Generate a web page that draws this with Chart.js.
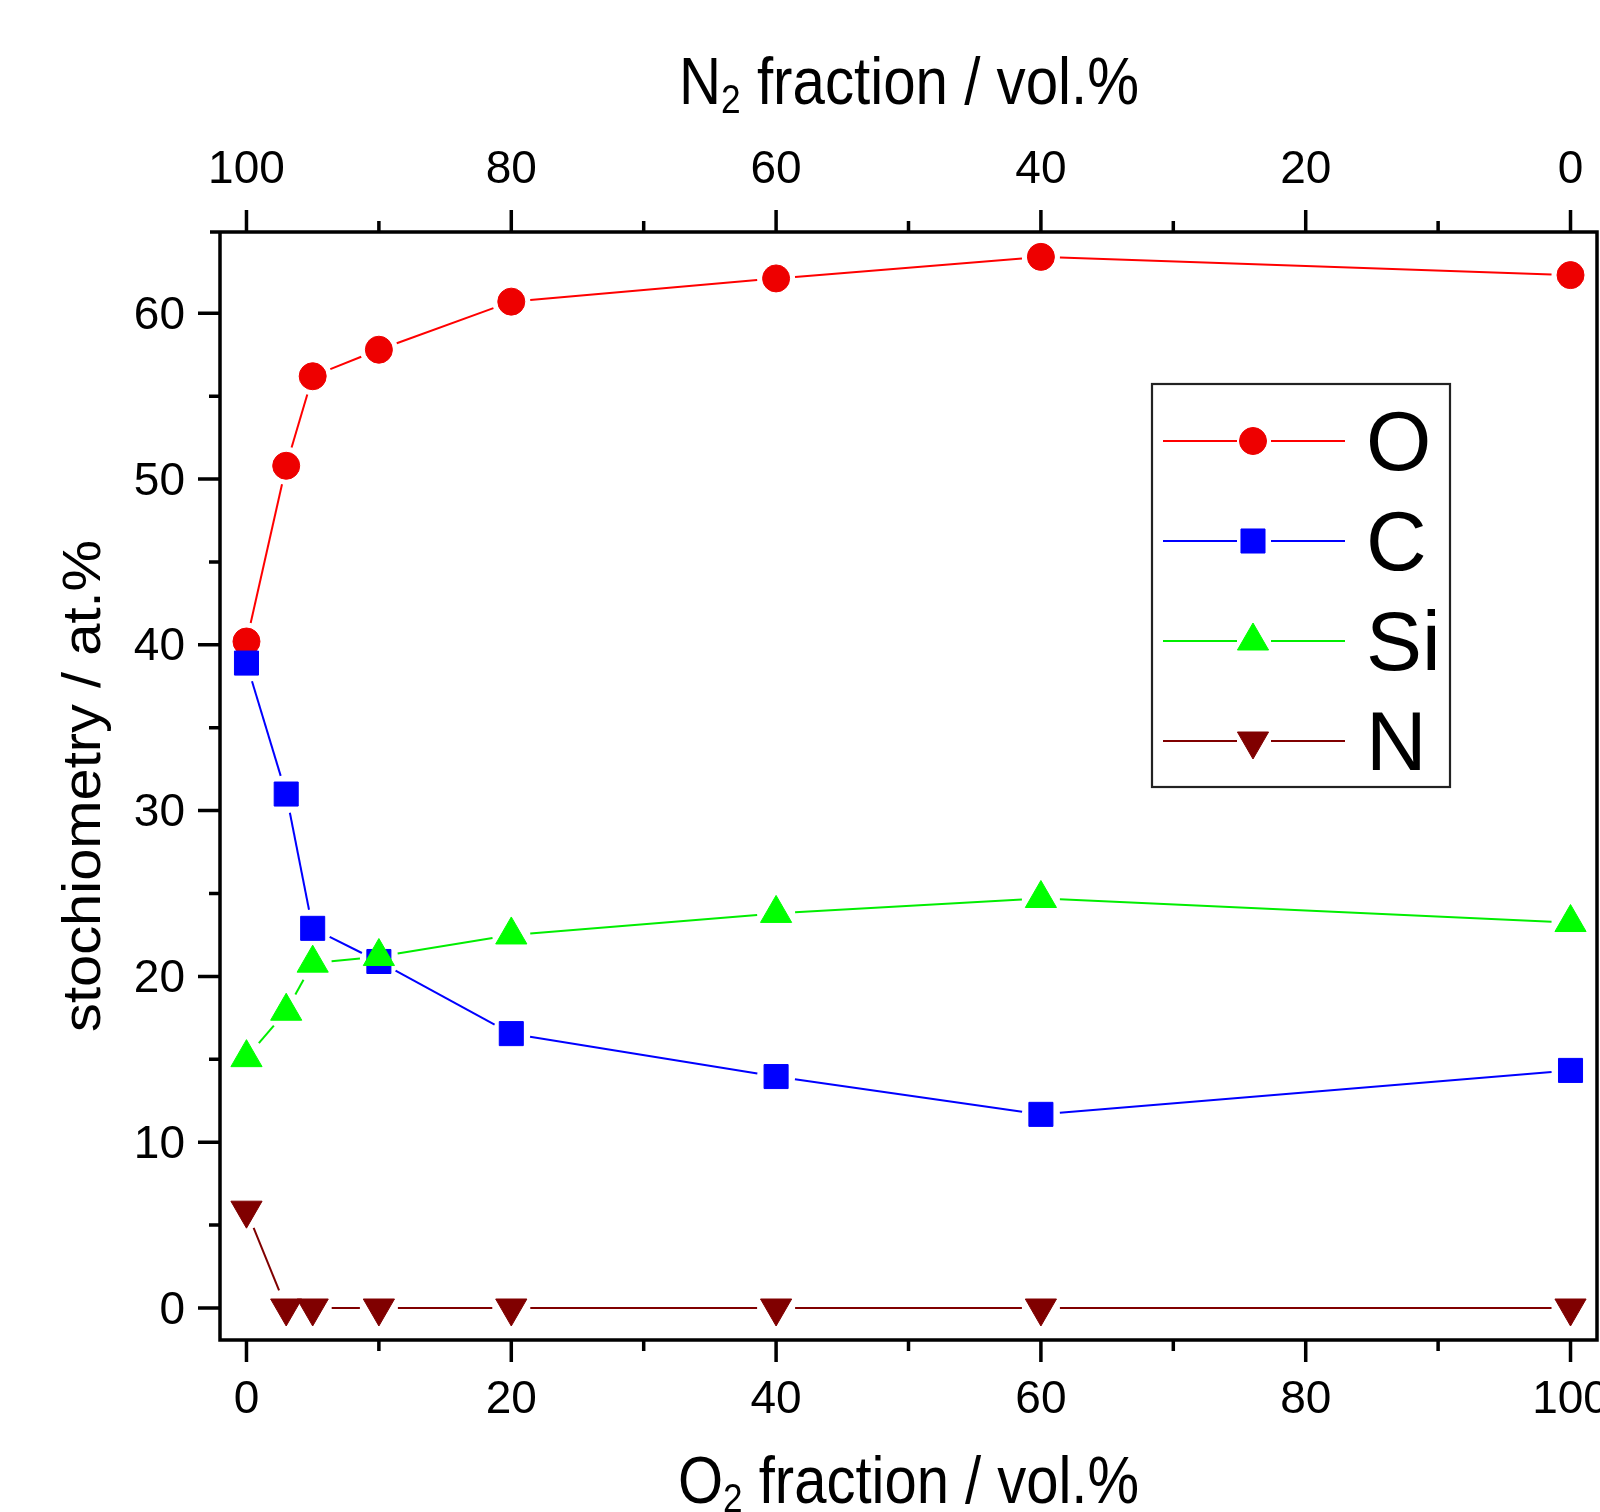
<!DOCTYPE html>
<html>
<head>
<meta charset="utf-8">
<script src="https://cdn.jsdelivr.net/npm/chart.js@4.4.1/dist/chart.umd.min.js"></script>
<style>
  html, body { margin: 0; padding: 0; background: #fff; }
  canvas { display: block; }
</style>
</head>
<body>
<canvas id="chart" width="1600" height="1512"></canvas>
<script>
// ============================================================
// DATA
// ============================================================
const o2Fraction = [0, 3, 5, 10, 20, 40, 60, 100];
const oxygen     = [40.2, 50.8, 56.2, 57.8, 60.7, 62.1, 63.4, 62.3];
const carbon     = [38.9, 31.0, 22.9, 20.9, 16.55, 13.96, 11.68, 14.33];
const silicon    = [15.1, 17.9, 20.8, 21.2, 22.5, 23.8, 24.7, 23.25];
const nitrogen   = [5.9, 0, 0, 0, 0, 0, 0, 0];

const seriesNames = ['O', 'C', 'Si', 'N'];

const bottomTicks = [0, 20, 40, 60, 80, 100];
const bottomMinor = [10, 30, 50, 70, 90];
const topTicks    = [100, 80, 60, 40, 20, 0];
const topMinor    = [90, 70, 50, 30, 10];
const yTicks      = [0, 10, 20, 30, 40, 50, 60];
const yMinor      = [5, 15, 25, 35, 45, 55];

const FONT = '"Liberation Sans", Arial, sans-serif';

function pts(values) {
  return o2Fraction.map((x, i) => ({ x, y: values[i] }));
}

// ============================================================
// DATASETS
// ============================================================
const datasets = [
  { label: seriesNames[0], data: pts(oxygen),   line: '#ff0000', backgroundColor: '#ee0000', borderColor: '#ee0000',
    pointStyle: 'circle',   pointRadius: 13.5, rotation: 0,   order: 3 },
  { label: seriesNames[1], data: pts(carbon),   line: '#0000ff', backgroundColor: '#0000ff', borderColor: '#0000ff',
    pointStyle: 'rect',     pointRadius: 17,   rotation: 0,   order: 2 },
  { label: seriesNames[2], data: pts(silicon),  line: '#00ee00', backgroundColor: '#00ff00', borderColor: '#00ff00',
    pointStyle: 'triangle', pointRadius: 18,   rotation: 0,   order: 1 },
  { label: seriesNames[3], data: pts(nitrogen), line: '#800000', backgroundColor: '#800000', borderColor: '#800000',
    pointStyle: 'triangle', pointRadius: 18,   rotation: 180, order: 0 }
].map(d => ({
  ...d,
  showLine: false,
  pointBorderWidth: 1,
  pointHoverRadius: d.pointRadius,
  pointRotation: d.rotation,
  gap: 19,
  clip: false
}));

// ============================================================
// DRAW HELPERS
// ============================================================
function fitText(ctx, parts, left, baseline, width) {
  const widths = parts.map(p => { ctx.font = `${p.size}px ${FONT}`; return ctx.measureText(p.text).width; });
  const sx = width / widths.reduce((a, b) => a + b, 0);
  ctx.save();
  ctx.translate(left, baseline);
  ctx.scale(sx, 1);
  ctx.textAlign = 'left';
  ctx.textBaseline = 'alphabetic';
  let x = 0;
  parts.forEach((p, i) => {
    ctx.font = `${p.size}px ${FONT}`;
    ctx.fillText(p.text, x, p.dy || 0);
    x += widths[i];
  });
  ctx.restore();
}

function marker(ctx, ds, x, y) {
  ctx.save();
  ctx.fillStyle = ds.backgroundColor;
  ctx.strokeStyle = ds.borderColor;
  ctx.lineWidth = 1;
  Chart.helpers.drawPoint(ctx, {
    pointStyle: ds.pointStyle, rotation: ds.rotation, radius: ds.pointRadius, borderWidth: 1
  }, x, y);
  ctx.restore();
}

// lines stop short of every marker, like the original plot
const gappedLines = {
  id: 'gappedLines',
  beforeDatasetsDraw(chart) {
    const ctx = chart.ctx;
    chart.data.datasets.forEach((ds, di) => {
      const pts = chart.getDatasetMeta(di).data;
      ctx.save();
      ctx.strokeStyle = ds.line;
      ctx.lineWidth = 2;
      for (let i = 0; i < pts.length - 1; i++) {
        const p = pts[i], q = pts[i + 1];
        const dx = q.x - p.x, dy = q.y - p.y;
        const d = Math.hypot(dx, dy);
        if (d <= 2 * ds.gap) continue;
        const ux = dx / d, uy = dy / d;
        ctx.beginPath();
        ctx.moveTo(p.x + ux * ds.gap, p.y + uy * ds.gap);
        ctx.lineTo(q.x - ux * ds.gap, q.y - uy * ds.gap);
        ctx.stroke();
      }
      ctx.restore();
    });
  }
};

const frame = {
  id: 'frame',
  afterDatasetsDraw(chart) {
    const ctx = chart.ctx;
    const { left, right, top, bottom } = chart.chartArea;
    const x = chart.scales.x, x2 = chart.scales.x2, y = chart.scales.y;

    ctx.save();
    ctx.strokeStyle = '#000';
    ctx.lineWidth = 3.5;
    ctx.lineCap = 'butt';
    ctx.beginPath();
    ctx.moveTo(left - 10, top); ctx.lineTo(right, top);
    ctx.moveTo(right, top - 1.75); ctx.lineTo(right, bottom + 1.75);
    ctx.moveTo(left - 1.75, bottom); ctx.lineTo(right, bottom);
    ctx.moveTo(left, top); ctx.lineTo(left, bottom + 1.75);
    ctx.stroke();

    // ticks
    ctx.beginPath();
    bottomTicks.forEach(v => { const px = x.getPixelForValue(v); ctx.moveTo(px, bottom); ctx.lineTo(px, bottom + 22); });
    bottomMinor.forEach(v => { const px = x.getPixelForValue(v); ctx.moveTo(px, bottom); ctx.lineTo(px, bottom + 11); });
    topTicks.forEach(v => { const px = x2.getPixelForValue(v); ctx.moveTo(px, top); ctx.lineTo(px, top - 22); });
    topMinor.forEach(v => { const px = x2.getPixelForValue(v); ctx.moveTo(px, top); ctx.lineTo(px, top - 11); });
    yTicks.forEach(v => { const py = y.getPixelForValue(v); ctx.moveTo(left, py); ctx.lineTo(left - 22, py); });
    yMinor.forEach(v => { const py = y.getPixelForValue(v); ctx.moveTo(left, py); ctx.lineTo(left - 11, py); });
    ctx.stroke();

    // tick labels
    ctx.fillStyle = '#000';
    ctx.font = `46px ${FONT}`;
    ctx.textBaseline = 'alphabetic';
    ctx.textAlign = 'center';
    bottomTicks.forEach(v => ctx.fillText(String(v), x.getPixelForValue(v), 1412.5));
    topTicks.forEach(v => ctx.fillText(String(v), x2.getPixelForValue(v), 182.5));
    ctx.textAlign = 'right';
    yTicks.forEach(v => ctx.fillText(String(v), 185, y.getPixelForValue(v) + 15.5));

    // axis titles
    fitText(ctx, [
      { text: 'N', size: 66 }, { text: '2', size: 40, dy: 9 }, { text: ' fraction / vol.%', size: 66 }
    ], 679, 104, 460);
    fitText(ctx, [
      { text: 'O', size: 66 }, { text: '2', size: 40, dy: 9 }, { text: ' fraction / vol.%', size: 66 }
    ], 678, 1503, 461);

    ctx.save();
    ctx.translate(100, 786);
    ctx.rotate(-Math.PI / 2);
    ctx.font = `53px ${FONT}`;
    const t = 'stochiometry / at.%';
    const sx = 492 / ctx.measureText(t).width;
    ctx.scale(sx, 1);
    ctx.textAlign = 'center';
    ctx.fillText(t, 0, 0);
    ctx.restore();

    // legend
    ctx.lineWidth = 2.2;
    ctx.strokeStyle = '#222';
    ctx.strokeRect(1152, 384, 298, 403);
    const rows = [441, 541, 641, 741];
    chart.data.datasets.forEach((ds, i) => {
      const ry = rows[i];
      ctx.strokeStyle = ds.line;
      ctx.lineWidth = 2;
      ctx.beginPath();
      ctx.moveTo(1163, ry); ctx.lineTo(1237, ry);
      ctx.moveTo(1271, ry); ctx.lineTo(1345, ry);
      ctx.stroke();
      marker(ctx, ds, 1253, ry);
      ctx.fillStyle = '#000';
      ctx.font = `84px ${FONT}`;
      ctx.textAlign = 'left';
      ctx.fillText(ds.label, 1366, ry + 28.5);
    });
    ctx.restore();
  }
};

// ============================================================
// CHART
// ============================================================
new Chart(document.getElementById('chart'), {
  type: 'scatter',
  data: { datasets },
  options: {
    responsive: false,
    devicePixelRatio: 1,
    animation: false,
    layout: { autoPadding: false, padding: { left: 220, top: 232, right: 3, bottom: 172 } },
    plugins: { legend: { display: false }, tooltip: { enabled: false } },
    events: [],
    scales: {
      x:  { type: 'linear', min: -2, max: 102, display: false },
      x2: { type: 'linear', position: 'top', min: -2, max: 102, reverse: true, display: false },
      y:  { type: 'linear', min: -1.93, max: 64.9, display: false }
    }
  },
  plugins: [gappedLines, frame]
});
</script>
</body>
</html>
